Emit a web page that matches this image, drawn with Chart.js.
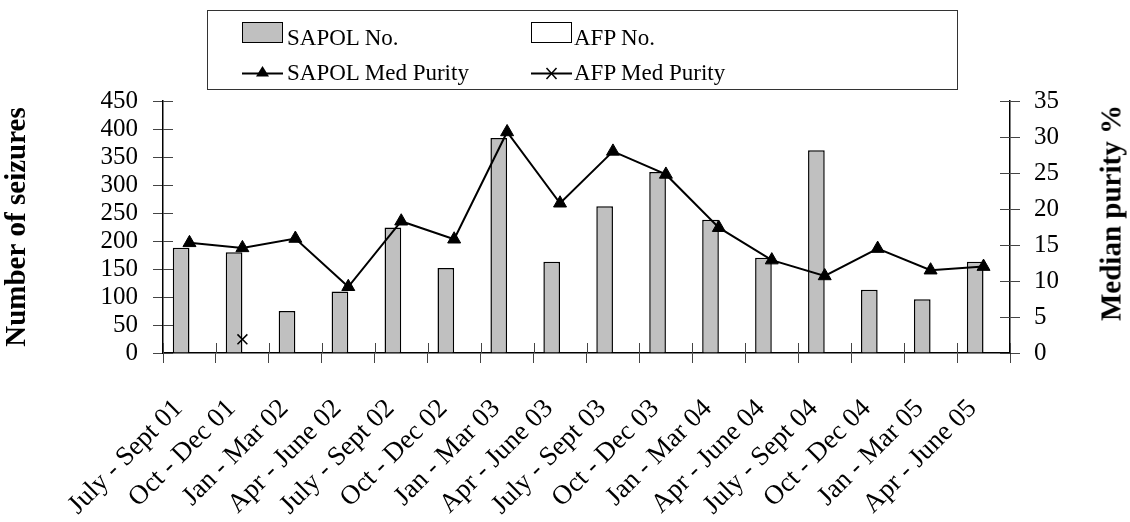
<!DOCTYPE html>
<html>
<head>
<meta charset="utf-8">
<script src="https://cdn.jsdelivr.net/npm/chart.js@4.4.1/dist/chart.umd.min.js"></script>
<style>
  body { margin: 0; background: #fff; }
  #wrap { position: relative; width: 1130px; height: 522px; font-family: "Liberation Serif", "DejaVu Serif", serif; color: #000; }
  #legend { position: absolute; left: 207px; top: 10px; width: 751px; height: 80px; box-sizing: border-box; border: 1.5px solid #333; }
  .lg-text { position: absolute; font-family: "Liberation Serif", "DejaVu Serif", serif; font-size: 23px; line-height: 23px; white-space: nowrap; }
  .lg-box { position: absolute; width: 41px; height: 21px; box-sizing: border-box; border: 1.5px solid #000; }
  .lg-line { position: absolute; }
  #rtitle { position: absolute; left: 1111px; top: 213px; transform: translate(-50%, -50%) rotate(-90deg); font-family: "Liberation Serif", "DejaVu Serif", serif; font-size: 29px; font-weight: bold; white-space: nowrap; }
</style>
</head>
<body>
<div id="wrap">
  <canvas id="seizuresChart" width="1130" height="522"></canvas>
  <div id="legend">
    <div class="lg-box" style="left:34px;top:11px;background:#c0c0c0"></div>
    <div class="lg-text" style="left:79px;top:15px">SAPOL No.</div>
    <div class="lg-box" style="left:323px;top:11px;background:#fff"></div>
    <div class="lg-text" style="left:366px;top:15px">AFP No.</div>
    <svg class="lg-line" style="left:34px;top:52px" width="42" height="20">
      <line x1="0" y1="10.5" x2="41" y2="10.5" stroke="#000" stroke-width="2"/>
      <polygon points="20.5,3 27,13.5 14,13.5" fill="#000"/>
    </svg>
    <div class="lg-text" style="left:79px;top:50px">SAPOL Med Purity</div>
    <svg class="lg-line" style="left:323px;top:52px" width="42" height="20">
      <line x1="0" y1="10.5" x2="41" y2="10.5" stroke="#000" stroke-width="2"/>
      <line x1="15.5" y1="5" x2="25.5" y2="16" stroke="#000" stroke-width="1.5"/>
      <line x1="25.5" y1="5" x2="15.5" y2="16" stroke="#000" stroke-width="1.5"/>
    </svg>
    <div class="lg-text" style="left:366px;top:50px">AFP Med Purity</div>
  </div>
  <div id="rtitle">Median purity %</div>
</div>
<script>
// quarters on the x axis
const periods = [
  'July - Sept 01', 'Oct - Dec 01', 'Jan - Mar 02', 'Apr - June 02',
  'July - Sept 02', 'Oct - Dec 02', 'Jan - Mar 03', 'Apr - June 03',
  'July - Sept 03', 'Oct - Dec 03', 'Jan - Mar 04', 'Apr - June 04',
  'July - Sept 04', 'Oct - Dec 04', 'Jan - Mar 05', 'Apr - June 05'
];

// number of seizures
const sapolNo = [188, 180, 75, 110, 224, 152, 384, 163, 262, 323, 238, 170, 362, 113, 96, 163];
const afpNo = [null, null, null, null, null, null, null, null, null, null, null, null, null, null, null, null];

// median purity %
const sapolPurity = [15.3, 14.6, 15.9, 9.2, 18.3, 15.8, 30.7, 20.8, 28.0, 24.8, 17.4, 12.9, 10.7, 14.5, 11.5, 12.0];
const afpPurity = [null, 1.9, null, null, null, null, null, null, null, null, null, null, null, null, null, null];

// axis ranges
const seizureMax = 450, seizureStep = 50;
const purityMax = 35, purityStep = 5;

const FONT = '"Liberation Serif", "DejaVu Serif", serif';

// tick marks that cross the axis line (inner half drawn here)
const crossTicks = {
  id: 'crossTicks',
  afterDatasetsDraw(chart) {
    const { ctx, chartArea, scales } = chart;
    ctx.save();
    ctx.strokeStyle = '#444';
    ctx.lineWidth = 1;
    scales.y.ticks.forEach(t => {
      const py = Math.round(scales.y.getPixelForValue(t.value)) + 0.5;
      ctx.beginPath(); ctx.moveTo(chartArea.left, py); ctx.lineTo(chartArea.left + 10, py); ctx.stroke();
    });
    scales.y1.ticks.forEach(t => {
      const py = Math.round(scales.y1.getPixelForValue(t.value)) + 0.5;
      ctx.beginPath(); ctx.moveTo(chartArea.right - 10, py); ctx.lineTo(chartArea.right, py); ctx.stroke();
    });
    for (let i = 0; i <= periods.length; i++) {
      const px = Math.round(scales.x.getPixelForValue(i - 0.5)) + 0.5;
      ctx.beginPath(); ctx.moveTo(px, chartArea.bottom - 10); ctx.lineTo(px, chartArea.bottom); ctx.stroke();
    }
    ctx.restore();
  }
};

const axisGrid = { drawOnChartArea: false, drawTicks: true, tickLength: 10, color: '#444' };
const axisBorder = { display: true, color: '#000', width: 1.5 };

new Chart(document.getElementById('seizuresChart'), {
  type: 'bar',
  data: {
    labels: periods,
    datasets: [
      {
        type: 'line',
        label: 'SAPOL Med Purity',
        data: sapolPurity,
        yAxisID: 'y1',
        borderColor: '#000',
        backgroundColor: '#000',
        borderWidth: 2,
        tension: 0,
        pointStyle: 'triangle',
        pointRadius: 7.5,
        pointBorderWidth: 1,
        order: 1
      },
      {
        type: 'line',
        label: 'AFP Med Purity',
        data: afpPurity,
        yAxisID: 'y1',
        borderColor: '#000',
        backgroundColor: '#000',
        borderWidth: 2,
        pointStyle: 'crossRot',
        pointRadius: 7,
        pointBorderWidth: 1.5,
        order: 1
      },
      {
        label: 'SAPOL No.',
        data: sapolNo,
        yAxisID: 'y',
        backgroundColor: '#c0c0c0',
        borderColor: '#000',
        borderWidth: 1.5,
        order: 2
      },
      {
        label: 'AFP No.',
        data: afpNo,
        yAxisID: 'y',
        backgroundColor: '#fff',
        borderColor: '#000',
        borderWidth: 1.5,
        order: 2
      }
    ]
  },
  options: {
    responsive: false,
    animation: false,
    datasets: { bar: { categoryPercentage: 0.63, barPercentage: 1 } },
    layout: { padding: { top: 101, left: 0, right: 0, bottom: 0 } },
    plugins: { legend: { display: false }, tooltip: { enabled: false } },
    scales: {
      x: {
        grid: { ...axisGrid, offset: true },
        border: axisBorder,
        ticks: { color: '#000', font: { family: FONT, size: 27 }, maxRotation: 45, minRotation: 45, padding: 30, labelOffset: -11, autoSkip: false },
        afterFit: s => { s.height = 169; }
      },
      y: {
        position: 'left',
        min: 0, max: seizureMax,
        grid: axisGrid,
        border: axisBorder,
        ticks: { stepSize: seizureStep, autoSkip: false, color: '#000', font: { family: FONT, size: 25 }, padding: 15 },
        title: { display: true, text: 'Number of seizures', color: '#000', font: { family: FONT, size: 29, weight: 'bold' }, padding: { top: 0, bottom: 0 } },
        afterFit: s => { s.width = 163; }
      },
      y1: {
        position: 'right',
        min: 0, max: purityMax,
        grid: axisGrid,
        border: axisBorder,
        ticks: { stepSize: purityStep, autoSkip: false, color: '#000', font: { family: FONT, size: 25 }, padding: 14 },
        afterFit: s => { s.width = 120; }
      }
    }
  },
  plugins: [crossTicks]
});
</script>
</body>
</html>
